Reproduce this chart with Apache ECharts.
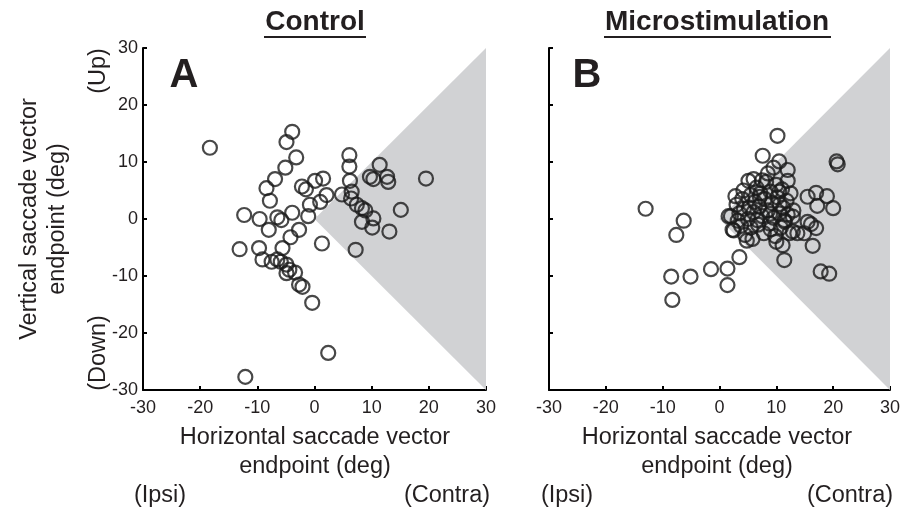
<!DOCTYPE html>
<html><head><meta charset="utf-8">
<script src="https://cdn.jsdelivr.net/npm/echarts@6/dist/echarts.min.js"></script>
<style>html,body{margin:0;padding:0;background:#fff}#c{width:912px;height:507px}</style>
</head><body><div id="c"></div>
<script>
// Tick values
var tickVals = [-30, -20, -10, 0, 10, 20, 30];
// Shaded triangle vertices (deg)
var shadeX = [0, 30, 30];
var shadeY = [0, 30, -30];
// Panel A: Control
var ctrlX = [-18.3,-3.9,-4.9,-3.2,-5.1,-6.9,-8.4,-7.8,-2.2,-1.5,0.1,-0.8,-1.1,-12.3,-9.6,-8.0,-6.5,-5.8,-3.9,-2.7,-4.2,-13.1,-9.7,-5.6,-9.1,-7.5,-6.5,-5.9,-4.9,-4.9,-3.4,-4.4,-2.7,-2.1,-0.4,1.3,-12.1,2.4,6.1,6.1,6.2,4.8,6.5,6.4,7.4,8.3,8.9,8.3,10.3,10.1,13.1,15.1,19.5,11.4,9.7,10.3,12.7,12.9,7.2,1.5,2.1,1.0];
var ctrlY = [12.5,15.3,13.5,10.8,9.0,7.0,5.4,3.2,5.7,5.2,6.7,2.5,0.5,0.7,0.0,-1.9,0.3,-0.2,1.1,-1.9,-3.2,-5.3,-5.1,-5.1,-7.1,-7.5,-7.1,-7.5,-8.0,-9.5,-9.4,-8.9,-11.5,-11.9,-14.7,-4.3,-27.7,-23.5,11.2,9.2,6.7,4.3,4.8,3.6,2.5,1.9,1.5,-0.5,0.1,-1.5,-2.2,1.6,7.1,9.5,7.4,7.0,7.4,6.5,-5.4,7.1,4.2,3.0];
// Panel B: Microstimulation
var stimX = [-13.0,-6.3,-7.6,-1.5,1.4,-8.5,-5.1,1.4,-8.3,3.5,11.4,10.2,7.6,10.5,5.1,20.6,20.8,12.0,15.5,17.0,18.9,17.2,20.0,12.9,15.5,16.1,17.0,14.9,12.9,13.7,16.4,17.8,19.3,11.4,11.1,10.5,12.0,
  2.0,2.5,3.0,3.5,3.8,4.0,4.2,4.5,5.0,5.2,5.5,5.8,6.0,6.2,6.5,6.8,7.0,7.2,7.5,7.8,8.0,8.2,8.5,8.8,9.0,9.2,9.5,9.8,10.0,10.2,10.5,10.8,11.0,11.2,11.5,11.8,12.0,12.3,3.2,5.5,7.5,9.0,6.0,4.8,10.0,8.5,2.8,13.0,12.5,9.5,6.6,8.9,4.3,7.1,10.6,1.6,2.3];
var stimY = [1.8,-0.3,-2.8,-8.8,-8.7,-10.1,-10.1,-11.6,-14.2,-6.7,-7.2,14.6,11.1,10.1,6.7,10.1,9.6,8.6,3.9,4.6,4.0,2.3,1.9,0.4,-0.5,-0.9,-1.6,-2.5,-2.2,-2.5,-4.7,-9.2,-9.6,-0.2,-4.6,4.8,6.7,
  0.5,-2.0,2.5,1.0,-1.2,3.5,5.0,-2.8,0.0,2.0,4.2,-3.5,1.2,3.0,5.5,-1.0,2.2,4.5,0.5,-2.5,3.5,6.5,1.5,-0.8,4.8,2.8,0.2,-3.0,6.0,3.8,1.0,-1.5,5.2,2.0,-0.5,3.2,0.8,-2.5,-0.3,-1.5,6.8,-1.8,7.0,-3.8,-4.0,8.0,4.0,1.5,4.5,9.0,-0.2,0.9,1.8,3.9,2.6,0.5,-1.9];

function pairs(xs, ys){ return xs.map(function(x,i){ return [x, ys[i]]; }); }

var FONT = '"Liberation Sans", Arial, Helvetica, sans-serif';
var chart = echarts.init(document.getElementById('c'), null, {renderer:'canvas'});

function xAxisCfg(idx){
  return {gridIndex: idx, type:'value', min:-30, max:30, interval:10,
    axisLine:{show:true, onZero:false, lineStyle:{color:'#000', width:2}},
    axisTick:{show:true, inside:true, length:4, lineStyle:{color:'#000', width:2}},
    axisLabel:{show:true, color:'#231f20', fontSize:18, fontFamily:FONT, margin:9},
    splitLine:{show:false}};
}
function yAxisCfg(idx, labels){
  return {gridIndex: idx, type:'value', min:-30, max:30, interval:10,
    axisLine:{show:true, onZero:false, lineStyle:{color:'#000', width:2}},
    axisTick:{show:true, inside:true, length:4, lineStyle:{color:'#000', width:2}},
    axisLabel:{show:labels, color:'#231f20', fontSize:18, fontFamily:FONT, margin:5},
    splitLine:{show:false}};
}
function shadeSeries(idx){
  return {type:'custom', xAxisIndex:idx, yAxisIndex:idx, silent:true, z:1,
    data:[0],
    renderItem:function(params, api){
      var pts = shadeX.map(function(x,i){ return api.coord([x, shadeY[i]]); });
      return {type:'polygon', shape:{points:pts}, style:{fill:'#d1d2d4', stroke:null}};
    }};
}
function scatterSeries(idx, data){
  return {type:'scatter', xAxisIndex:idx, yAxisIndex:idx, z:3, symbol:'circle', symbolSize:14,
    itemStyle:{color:'rgba(0,0,0,0)', borderColor:'#1a1a1a', borderWidth:2.2},
    data:data};
}
function txt(x, y, s, size, opts){
  opts = opts || {};
  return {type:'text', x:x, y:y, rotation:opts.rot||0, z:10,
    style:{text:s, fill:'#231f20', font:(opts.bold?'bold ':'')+size+'px '+FONT, textAlign:'center', textVerticalAlign:'middle'}};
}
function rule(x1, x2, y){
  return {type:'line', z:10, shape:{x1:x1, y1:y, x2:x2, y2:y}, style:{stroke:'#231f20', lineWidth:2}};
}

var R = Math.PI/2;
chart.setOption({
  animation:false,
  backgroundColor:'#fff',
  grid:[
    {left:143, top:48, width:343, height:342},
    {left:549, top:48, width:341, height:342}
  ],
  xAxis:[xAxisCfg(0), xAxisCfg(1)],
  yAxis:[yAxisCfg(0,true), yAxisCfg(1,false)],
  series:[shadeSeries(0), shadeSeries(1), scatterSeries(0, pairs(ctrlX, ctrlY)), scatterSeries(1, pairs(stimX, stimY))],
  graphic:[
    txt(315, 22, 'Control', 28, {bold:true}), rule(264, 366, 37),
    txt(717, 22, 'Microstimulation', 28, {bold:true}), rule(604, 831, 37),
    txt(184, 76, 'A', 40, {bold:true}),
    txt(587, 76, 'B', 40, {bold:true}),
    txt(30, 219, 'Vertical saccade vector', 23.5, {rot:R}),
    txt(58, 219, 'endpoint (deg)', 23.5, {rot:R}),
    txt(99, 71, '(Up)', 23.5, {rot:R}),
    txt(99, 353, '(Down)', 23.5, {rot:R}),
    txt(315, 438, 'Horizontal saccade vector', 23.5),
    txt(315, 467, 'endpoint (deg)', 23.5),
    txt(160, 496, '(Ipsi)', 23.5),
    txt(447, 496, '(Contra)', 23.5),
    txt(717, 438, 'Horizontal saccade vector', 23.5),
    txt(717, 467, 'endpoint (deg)', 23.5),
    txt(567, 496, '(Ipsi)', 23.5),
    txt(850, 496, '(Contra)', 23.5)
  ]
});
</script></body></html>
